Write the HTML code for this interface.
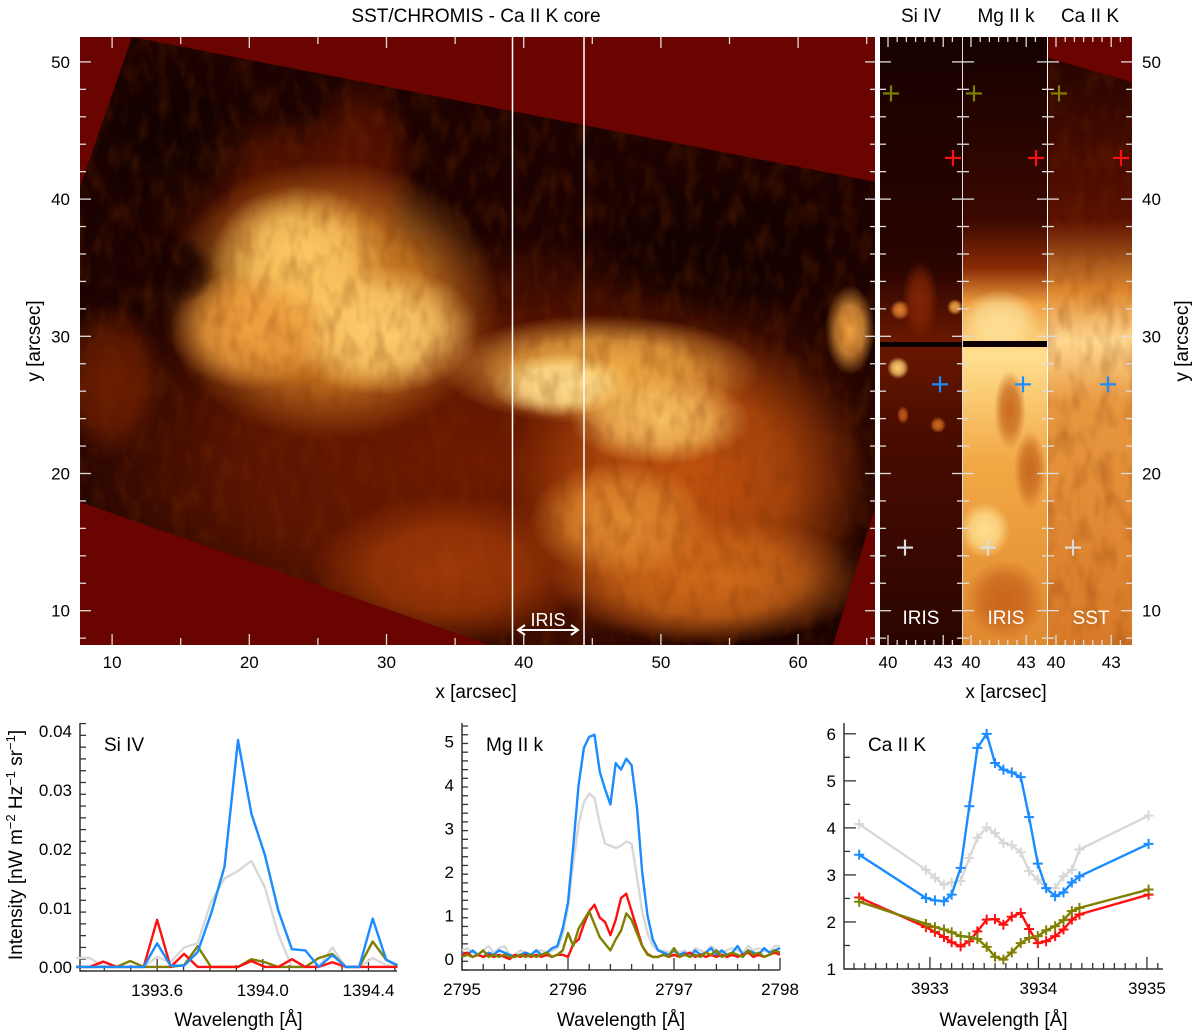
<!DOCTYPE html>
<html><head><meta charset="utf-8"><style>
html,body{margin:0;padding:0;background:#fff;overflow:hidden;width:1200px;height:1033px;}
svg{display:block;font-family:"Liberation Sans",Arial,sans-serif;overflow:hidden;}
</style></head><body>
<svg id="fig" width="1200" height="1033" viewBox="0 0 1200 1033" xmlns="http://www.w3.org/2000/svg">
<defs id="defs">
<clipPath id="rotclip"><polygon points="132,37 876,182 876,504 833,645 490,645 80,502 80,187"/></clipPath>
<clipPath id="siclip"><rect x="880" y="37" width="83" height="608"/></clipPath>
<clipPath id="mgclip"><rect x="963" y="37" width="85" height="608"/></clipPath>
<clipPath id="caclip"><rect x="1048" y="37" width="84" height="608"/></clipPath>
<filter id="streaks" x="0" y="0" width="1" height="1"><feTurbulence type="fractalNoise" baseFrequency="0.07 0.035" numOctaves="2" seed="5"/><feColorMatrix values="0 0 0 0 0.2  0 0 0 0 0.03  0 0 0 0 0  0 0 0 1.4 -0.6"/></filter>
<linearGradient id="mgg" x1="0" y1="0" x2="0" y2="1">
<stop offset="0" stop-color="#150100"/><stop offset="0.3" stop-color="#3a0800"/><stop offset="0.38" stop-color="#8a2a05"/><stop offset="0.44" stop-color="#f0a040"/><stop offset="0.52" stop-color="#ffe090"/><stop offset="0.7" stop-color="#f2a845"/><stop offset="1" stop-color="#e08a30"/></linearGradient>
<linearGradient id="cag" x1="0" y1="0" x2="0" y2="1">
<stop offset="0" stop-color="#200200"/><stop offset="0.3" stop-color="#5a1000"/><stop offset="0.42" stop-color="#e08a30"/><stop offset="0.5" stop-color="#ffd890"/><stop offset="0.6" stop-color="#e89840"/><stop offset="1" stop-color="#d87a28"/></linearGradient>
<linearGradient id="sig" x1="0" y1="0" x2="0" y2="1">
<stop offset="0" stop-color="#180200"/><stop offset="0.38" stop-color="#2a0400"/><stop offset="0.5" stop-color="#6a1800"/><stop offset="0.65" stop-color="#4a0c00"/><stop offset="1" stop-color="#2a0500"/></linearGradient>
</defs>

<text x="476" y="22" font-size="19" text-anchor="middle">SST/CHROMIS - Ca II K core</text>
<text x="921" y="22" font-size="19" text-anchor="middle">Si IV</text>
<text x="1006" y="22" font-size="19" text-anchor="middle">Mg II k</text>
<text x="1090" y="22" font-size="19" text-anchor="middle">Ca II K</text>

<g>
<rect x="80" y="37" width="796" height="608" fill="#6a0400"/>
<g clip-path="url(#rotclip)">
<rect x="80" y="37" width="796" height="608" fill="#1c0200"/>
<g id="blobs"></g>
<rect x="80" y="37" width="796" height="608" filter="url(#streaks)" opacity="0.5"/>
</g>
<line x1="512.5" y1="37" x2="512.5" y2="645" stroke="#fff" stroke-width="1.5"/>
<line x1="584" y1="37" x2="584" y2="645" stroke="#fff" stroke-width="1.5"/>
<text x="548" y="626" font-size="18" fill="#fff" text-anchor="middle">IRIS</text>
<g stroke="#fff" stroke-width="2" fill="none">
<line x1="518" y1="630" x2="578" y2="630"/><polyline points="525,625 518,630 525,635"/><polyline points="571,625 578,630 571,635"/>
</g>
</g>
<rect x="875" y="37" width="5" height="608" fill="#fff"/>

<g clip-path="url(#siclip)">
<rect x="880" y="37" width="83" height="608" fill="url(#sig)"/>
<g id="siblobs"></g>
<rect x="880" y="342" width="83" height="5" fill="#0a0000"/>
</g>
<rect x="962" y="37" width="2" height="608" fill="#ddd"/>
<g clip-path="url(#mgclip)">
<rect x="963" y="37" width="85" height="608" fill="url(#mgg)"/>
<g id="mgblobs"></g>
<rect x="963" y="341" width="85" height="6" fill="#0a0000"/>
</g>
<rect x="1047" y="37" width="2" height="608" fill="#fff"/>
<g clip-path="url(#caclip)">
<rect x="1048" y="37" width="84" height="608" fill="url(#cag)"/>
<rect x="1048" y="37" width="84" height="608" filter="url(#streaks)" opacity="0.45"/>
<polygon points="1048,37 1132,37 1132,82 1048,58" fill="#6a0400"/>
</g>
<text x="921" y="624" font-size="19" fill="#fff" text-anchor="middle">IRIS</text>
<text x="1006" y="624" font-size="19" fill="#fff" text-anchor="middle">IRIS</text>
<text x="1091" y="624" font-size="19" fill="#fff" text-anchor="middle">SST</text>

<g id="crosses"></g>
<g id="topticks"></g>
<g id="plots"></g>

<text x="476" y="698" font-size="19" text-anchor="middle">x [arcsec]</text>
<text x="1006" y="698" font-size="19" text-anchor="middle">x [arcsec]</text>
<text transform="translate(40,341) rotate(-90)" font-size="19" text-anchor="middle">y [arcsec]</text>
<text transform="translate(1188,341) rotate(-90)" font-size="19" text-anchor="middle">y [arcsec]</text>
<text transform="translate(22,845) rotate(-90)" font-size="19" text-anchor="middle">Intensity [nW m<tspan dy="-7" font-size="13">−2</tspan><tspan dy="7"> Hz</tspan><tspan dy="-7" font-size="13">−1</tspan><tspan dy="7"> sr</tspan><tspan dy="-7" font-size="13">−1</tspan><tspan dy="7">]</tspan></text>
</svg>
<script>
// ---------- data ----------
const siWave = [1393.294,1393.345,1393.396,1393.447,1393.498,1393.549,1393.600,1393.651,1393.702,1393.753,1393.804,1393.855,1393.906,1393.957,1394.008,1394.059,1394.110,1394.161,1394.212,1394.263,1394.314,1394.365,1394.416,1394.467,1394.51];
const siBlue  = [0,0,0,0,0,0,0.004,0.0002,0.0002,0.0025,0.009,0.017,0.0385,0.026,0.019,0.0095,0.003,0.0028,0,0.002,0,0,0.0082,0.0012,0.0003];
const siGray  = [0.0015,0.0015,0.0001,0,0,0,0.0017,0.0008,0.0033,0.004,0.011,0.015,0.0163,0.018,0.0135,0.0055,0,0,0,0.0033,0,0,0.0015,0.0003,0];
const siRed   = [0,0,0.0009,0,0,0,0.008,0,0.0022,0,0,0,0,0.001,0,0,0.0013,0,0,0.0008,0,0,0,0,0];
const siOlive = [0,0,0,0,0.001,0,0,0,0.0003,0.0035,0,0,0,0.0013,0.0008,0,0,0,0.0015,0.0022,0,0,0.0043,0.0012,0.0002];

const mgWave = Array.from({length:61},(_,i)=>2795+0.05*i);
const mgBlue  = [0.15,0.1,0.2,0.1,0.05,0.15,0.1,0.2,0.15,0.1,0.05,0.1,0.15,0.1,0.2,0.1,0.15,0.25,0.3,0.7,1.3,2.6,4.0,4.85,5.1,5.15,4.3,3.9,3.55,4.5,4.35,4.6,4.45,3.5,2.0,1.0,0.45,0.2,0.15,0.1,0.2,0.1,0.15,0.05,0.2,0.1,0.15,0.25,0.1,0.2,0.1,0.15,0.3,0.1,0.2,0.15,0.1,0.25,0.15,0.2,0.25];
const mgGray  = [0.2,0.25,0.15,0.1,0.2,0.3,0.15,0.25,0.3,0.1,0.1,0.2,0.15,0.1,0.2,0.2,0.15,0.2,0.25,0.55,1.2,2.2,3.1,3.6,3.8,3.7,3.1,2.65,2.6,2.55,2.6,2.7,2.65,1.9,1.1,0.6,0.3,0.2,0.2,0.15,0.25,0.15,0.2,0.1,0.25,0.2,0.15,0.3,0.2,0.15,0.2,0.25,0.2,0.15,0.3,0.2,0.25,0.2,0.15,0.3,0.3];
const mgRed   = [0.1,0.15,0.05,0.1,0.05,0.1,0.05,0.1,0.05,0,0.1,0.05,0.1,0.05,0.1,0.05,0.1,0.05,0.1,0.1,0.05,0.35,0.45,0.8,1.1,1.25,0.95,0.85,0.55,0.9,1.4,1.5,1.1,0.7,0.3,0.12,0.05,0.05,0.1,0.05,0.1,0.05,0.1,0.15,0.05,0.1,0.05,0.1,0.05,0.1,0.05,0.1,0.05,0.1,0.15,0.05,0.1,0.05,0.1,0.15,0.1];
const mgOlive = [0.05,0.1,0.05,0.1,0.2,0.05,0.1,0.05,0.1,0.05,0.05,0.1,0.05,0.1,0.05,0.1,0.15,0.05,0.1,0.2,0.6,0.3,0.7,0.9,1.1,0.8,0.5,0.35,0.2,0.45,0.65,1.05,0.9,0.6,0.3,0.1,0.05,0.05,0.1,0.05,0.25,0.05,0.1,0.05,0.1,0.05,0.15,0.1,0.2,0.05,0.1,0.15,0.1,0.05,0.2,0.1,0.15,0.05,0.1,0.2,0.15];

const caWave = [3932.348,3932.963,3933.046,3933.129,3933.200,3933.283,3933.363,3933.437,3933.523,3933.600,3933.677,3933.754,3933.837,3933.914,3933.994,3934.071,3934.154,3934.231,3934.308,3934.378,3935.015];
const caBlue  = [3.43,2.51,2.46,2.44,2.58,3.15,4.46,5.70,6.00,5.38,5.24,5.18,5.08,4.23,3.24,2.72,2.55,2.63,2.84,2.97,3.66];
const caGray  = [4.08,3.11,2.94,2.79,2.84,2.87,3.36,3.79,4.01,3.89,3.68,3.63,3.48,3.08,2.90,2.72,2.72,2.97,3.11,3.54,4.26];
const caRed   = [2.52,1.89,1.79,1.68,1.57,1.48,1.59,1.80,2.05,2.06,1.94,2.11,2.19,1.85,1.55,1.59,1.70,1.84,2.05,2.16,2.58];
const caOlive = [2.43,1.96,1.89,1.84,1.78,1.70,1.68,1.64,1.47,1.26,1.20,1.35,1.55,1.66,1.70,1.82,1.91,2.04,2.23,2.30,2.69];

const mainXTicks = [10,20,30,40,50,60];
const mainYTicks = [10,20,30,40,50];
const stripXTicks = [40,43];
const siXTicks = [1393.6,1394.0,1394.4];
const siYTicks = [0,0.01,0.02,0.03,0.04];
const mgXTicks = [2795,2796,2797,2798];
const mgYTicks = [0,1,2,3,4,5];
const caXTicks = [3933,3934,3935];
const caYTicks = [1,2,3,4,5,6];
const crossY = [47.7, 43.0, 26.5, 14.6];
const crossXoff = [11, 73, 60, 25];
const crossColors = ['#808000','#ff1010','#1a8cff','#dddddd'];

const NS='http://www.w3.org/2000/svg';
function el(tag,attrs,parent){const e=document.createElementNS(NS,tag);for(const k in attrs)e.setAttribute(k,attrs[k]);parent.appendChild(e);return e;}

// ---------- soft blobs (decorative image approximation) ----------
const defs=document.getElementById('defs');
let gid=0;
function blob(parent,cx,cy,rx,ry,col,op){
  const id='rg'+(gid++);
  const rg=el('radialGradient',{id:id},defs);
  el('stop',{offset:'0','stop-color':col,'stop-opacity':op||1},rg);
  el('stop',{offset:'0.55','stop-color':col,'stop-opacity':(op||1)*0.75},rg);
  el('stop',{offset:'1','stop-color':col,'stop-opacity':0},rg);
  el('ellipse',{cx:cx,cy:cy,rx:rx,ry:ry,fill:`url(#${id})`},parent);
}
const bg=document.getElementById('blobs');
[[480,460,440,230,'#6e1a00'],[110,380,55,80,'#8a2800',0.7],[270,190,130,80,'#581400'],[360,170,60,100,'#5a1200'],
 [690,480,180,160,'#c0520f'],[450,570,140,75,'#a03a08'],[710,580,160,65,'#d06a1a'],[620,520,90,60,'#e08a30'],
 [330,300,170,140,'#e8902a'],[300,260,90,75,'#ffcc66'],[380,330,100,65,'#ffd070'],[250,330,80,60,'#f0a040'],
 [600,370,160,55,'#f4b048'],[560,385,70,32,'#ffe090'],[660,420,90,45,'#f8c060'],[850,330,25,45,'#f0a040'],
 [180,270,35,35,'#1a0200'],[720,245,150,75,'#120100'],[170,140,90,90,'#120100']
].forEach(b=>blob(bg,...b));
const sb=document.getElementById('siblobs');
[[900,310,10,10,'#e08030'],[898,368,11,11,'#ffd070'],[955,307,8,8,'#f0a040'],[938,425,8,8,'#d06a20'],[920,300,18,40,'#902a05',0.8],[903,415,6,9,'#c05a18']].forEach(b=>blob(sb,...b));
const mb=document.getElementById('mgblobs');
[[1010,410,16,40,'#c86a20'],[1030,470,16,40,'#c86a20'],[1005,600,40,40,'#c8641c'],[985,530,25,28,'#ffe090'],[1000,320,40,30,'#fff0b0',0.7]].forEach(b=>blob(mb,...b));

// ---------- top image axes ----------
const tt=document.getElementById('topticks');
const mx=v=>80+(v-7.66)*13.72;
const my=v=>645-(v-7.5)*13.72;
for(let v=8;v<=65;v++){
  const major=v%10===0, mid=v%5===0;
  const L=major?11:7;
  if(!mid) continue;
  const t1=el('line',{x1:mx(v),y1:645,x2:mx(v),y2:645-L,stroke:'#ddd','stroke-width':1.3},tt);
  
  el('line',{x1:mx(v),y1:37,x2:mx(v),y2:37+L,stroke:'#ddd','stroke-width':1.3},tt);
}
for(let v=8;v<=51;v++){
  const major=v%10===0, L=major?11:(v%2===0?6:0);
  if(!L) continue;
  el('line',{x1:80,y1:my(v),x2:80+L,y2:my(v),stroke:'#ddd','stroke-width':1.3},tt);
  el('line',{x1:876,y1:my(v),x2:876-L,y2:my(v),stroke:'#ddd','stroke-width':1.3},tt);
  for(const [a,b] of [[963,880],[1048,963],[1132,1048]]){
    el('line',{x1:a,y1:my(v),x2:a-L,y2:my(v),stroke:'#ddd','stroke-width':1.3},tt);
    el('line',{x1:b,y1:my(v),x2:b+L,y2:my(v),stroke:'#ddd','stroke-width':1.3},tt);
  }
}
mainXTicks.forEach(v=>{const t=el('text',{x:mx(v),y:668,'font-size':17,'text-anchor':'middle'},tt);t.textContent=v;
 });
mainYTicks.forEach(v=>{
 const t=el('text',{x:70,y:my(v)+6,'font-size':17,'text-anchor':'end'},tt);t.textContent=v;
 
 const r=el('text',{x:1142,y:my(v)+6,'font-size':17},tt);r.textContent=v;
 });
const stripLeft=[880,963,1048];
const sx=(s,v)=>stripLeft[s]+8+(v-40)*18.4;
for(let s=0;s<3;s++){
  for(let k=0;k<=8;k++){const v=39.5+k*0.5;const X=sx(s,v);if(X<stripLeft[s]+1||X>stripLeft[s]+83)continue;
    const L=(v===40||v===43)?10:5;
    el('line',{x1:X,y1:645,x2:X,y2:645-L,stroke:'#ddd','stroke-width':1.3},tt);
    el('line',{x1:X,y1:37,x2:X,y2:37+L,stroke:'#ddd','stroke-width':1.3},tt);}
  stripXTicks.forEach(v=>{const t=el('text',{x:sx(s,v),y:668,'font-size':17,'text-anchor':'middle'},tt);t.textContent=v;
   });
}
// crosses
const cg=document.getElementById('crosses');
for(let s=0;s<3;s++){
  crossY.forEach((yv,i)=>{
    const X=stripLeft[s]+crossXoff[i], Y=my(yv);
    const g=el('g',{stroke:crossColors[i],'stroke-width':2.2},cg);
    
    
    el('line',{x1:X-8,y1:Y,x2:X+8,y2:Y},g);el('line',{x1:X,y1:Y-8,x2:X,y2:Y+8},g);
  });
}

// ---------- spectral plots ----------
const pg=document.getElementById('plots');
function plot(cfg){
  const g=el('g',{},pg);
  
  
  const X=v=>cfg.x0+(v-cfg.xmin)/(cfg.xmax-cfg.xmin)*(cfg.x1-cfg.x0);
  const Y=v=>cfg.yb-(v-cfg.ymin)/(cfg.ymax-cfg.ymin)*(cfg.yb-cfg.yt);
  const ax=el('path',{d:`M${cfg.x0},${cfg.yt} V${cfg.yb} H${cfg.x1}`,fill:'none',stroke:'#333','stroke-width':1.5},g);
  
  for(let v=Math.ceil(cfg.xmin/cfg.xminor-1e-6)*cfg.xminor;v<=cfg.xmax+1e-9;v+=cfg.xminor){
    const isMaj=cfg.xticks.some(t=>Math.abs(t-v)<1e-6);
    el('line',{x1:X(v),x2:X(v),y1:cfg.yb,y2:cfg.yb-(isMaj?12:6),stroke:'#333','stroke-width':1.3},g);}
  for(let v=cfg.ymin;v<=cfg.ymax+1e-9;v+=cfg.yminor){
    const isMaj=cfg.yticks.some(t=>Math.abs(t-v)<1e-6);
    el('line',{x1:cfg.x0,x2:cfg.x0+(isMaj?12:6),y1:Y(v),y2:Y(v),stroke:'#333','stroke-width':1.3},g);}
  cfg.xticks.forEach(v=>{const t=el('text',{x:X(v),y:cfg.yb+25,'font-size':17,'text-anchor':'middle'},g);t.textContent=cfg.xfmt(v);
    });
  cfg.yticks.forEach(v=>{const t=el('text',{x:cfg.x0-8,y:Y(v)+6,'font-size':17,'text-anchor':'end'},g);t.textContent=cfg.yfmt(v);
    });
  const xt=el('text',{x:(cfg.x0+cfg.x1)/2,y:1026,'font-size':19,'text-anchor':'middle'},g);xt.textContent='Wavelength [Å]';
  
  const lb=el('text',{x:cfg.x0+24,y:cfg.yt+28,'font-size':19},g);lb.textContent=cfg.label;
  
  cfg.series.forEach(s=>{
    const d=cfg.wave.map((w,i)=>`${i?'L':'M'}${X(w).toFixed(1)},${Y(s.v[i]).toFixed(1)}`).join(' ');
    const p=el('path',{d:d,fill:'none',stroke:s.c,'stroke-width':2.4,'stroke-linejoin':'round'},g);
    
    
    if(cfg.markers){cfg.wave.forEach((w,i)=>{const m=el('path',{d:`M${X(w)-5},${Y(s.v[i])}h10M${X(w)},${Y(s.v[i])-5}v10`,stroke:s.c,'stroke-width':2},g);
      });}
  });
}
plot({name:'si-iv-plot',x0:80,x1:397,xmin:1393.308,xmax:1394.508,yb:971,yt:723,ymin:-0.0007,ymax:0.0414,
  xticks:siXTicks,xminor:0.1,yticks:siYTicks,yminor:0.002,xfmt:v=>v.toFixed(1),yfmt:v=>v.toFixed(2),label:'Si IV',wave:siWave,
  series:[{v:siGray,c:'#d8d8d8',n:'si-gray-line'},{v:siOlive,c:'#808000',n:'si-olive-line'},{v:siRed,c:'#ff1010',n:'si-red-line'},{v:siBlue,c:'#1a8cff',n:'si-blue-line'}]});
plot({name:'mg-ii-k-plot',x0:462,x1:780,xmin:2795,xmax:2798,yb:970,yt:723,ymin:-0.25,ymax:5.42,
  xticks:mgXTicks,xminor:0.2,yticks:mgYTicks,yminor:0.2,xfmt:v=>v,yfmt:v=>v,label:'Mg II k',wave:mgWave,
  series:[{v:mgGray,c:'#d8d8d8',n:'mg-gray-line'},{v:mgBlue,c:'#1a8cff',n:'mg-blue-line'},{v:mgRed,c:'#ff1010',n:'mg-red-line'},{v:mgOlive,c:'#808000',n:'mg-olive-line'}]});
plot({name:'ca-ii-k-plot',x0:844,x1:1163,xmin:3932.208,xmax:3935.148,yb:969,yt:723,ymin:1,ymax:6.23,
  xticks:caXTicks,xminor:0.1,yticks:caYTicks,yminor:0.5,xfmt:v=>v,yfmt:v=>v,label:'Ca II K',wave:caWave,markers:true,
  series:[{v:caGray,c:'#d8d8d8',n:'ca-gray-line'},{v:caBlue,c:'#1a8cff',n:'ca-blue-line'},{v:caRed,c:'#ff1010',n:'ca-red-line'},{v:caOlive,c:'#808000',n:'ca-olive-line'}]});
</script>
</body></html>
